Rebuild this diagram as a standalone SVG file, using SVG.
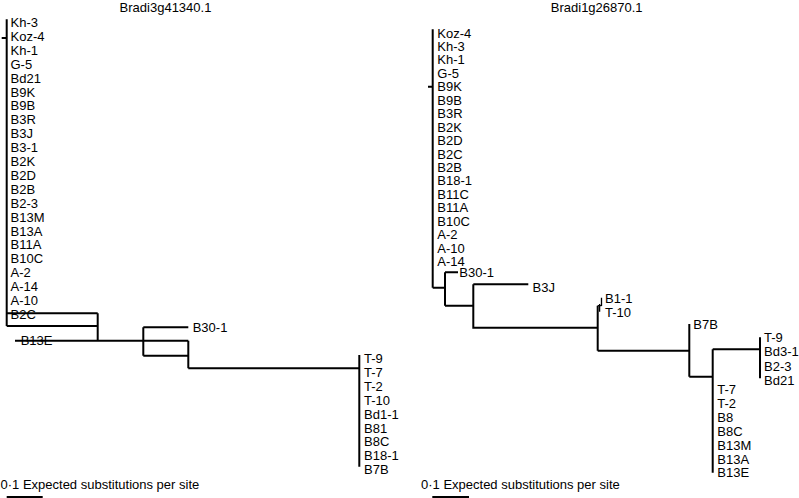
<svg xmlns="http://www.w3.org/2000/svg" width="799" height="498" viewBox="0 0 799 498">
<style>
text{font-family:"Liberation Sans",Arial,sans-serif;font-size:13px;fill:#000}
.t{text-anchor:middle}
.e{fill:none;stroke:#000;stroke-width:2}
.f{fill:none;stroke:#000;stroke-width:1.3}
</style>
<rect width="799" height="498" fill="#fff"/>
<g id="titles">
<text class="t" x="165.5" y="12">Bradi3g41340.1</text>
<text class="t" x="596.7" y="12">Bradi1g26870.1</text>
</g>
<g id="connectors">
<path class="e" d="M6.7 19.3V326M1.7 38H6.7M6.7 313.3H97.7M6.7 326H97.7M97.7 313.3V340.7M15 340.7H188.3M143.3 327.3V355.7M143.3 327.3H188.3M143.3 355.7H188.3M188.3 340.7V368.3M188.3 368.3H359.3M359.3 355V466.7"/>
<path class="e" d="M432.7 29.3V287.7M428 86.7H432.7M432.7 287.7H445M445 272.3V305.7M445 272.3H458M445 305.7H473.3M473.3 284.3V328.7M473.3 284.3H528.3M473.3 327.7H597.7M597.7 305.7V350.7M597.7 350.7H689.3M689.3 324V376.7M689.3 376.7H712.7M712.7 349.3V472.7M712.7 349.3H760M760 337.3V378.3"/>
<path class="f" d="M597.7 305.7H601.5M601.5 297.8V306M599.6 304V311.7"/>
</g>
<g id="left-clade">
<g id="L-Kh-3"><text x="10.5" y="27">Kh-3</text></g>
<g id="L-Koz-4"><text x="10.5" y="40.9">Koz-4</text></g>
<g id="L-Kh-1"><text x="10.5" y="54.8">Kh-1</text></g>
<g id="L-G-5"><text x="10.5" y="68.7">G-5</text></g>
<g id="L-Bd21"><text x="10.5" y="82.6">Bd21</text></g>
<g id="L-B9K"><text x="10.5" y="96.5">B9K</text></g>
<g id="L-B9B"><text x="10.5" y="110.4">B9B</text></g>
<g id="L-B3R"><text x="10.5" y="124.3">B3R</text></g>
<g id="L-B3J"><text x="10.5" y="138.2">B3J</text></g>
<g id="L-B3-1"><text x="10.5" y="152.1">B3-1</text></g>
<g id="L-B2K"><text x="10.5" y="166">B2K</text></g>
<g id="L-B2D"><text x="10.5" y="179.9">B2D</text></g>
<g id="L-B2B"><text x="10.5" y="193.8">B2B</text></g>
<g id="L-B2-3"><text x="10.5" y="207.7">B2-3</text></g>
<g id="L-B13M"><text x="10.5" y="221.6">B13M</text></g>
<g id="L-B13A"><text x="10.5" y="235.5">B13A</text></g>
<g id="L-B11A"><text x="10.5" y="249.4">B11A</text></g>
<g id="L-B10C"><text x="10.5" y="263.3">B10C</text></g>
<g id="L-A-2"><text x="10.5" y="277.2">A-2</text></g>
<g id="L-A-14"><text x="10.5" y="291.1">A-14</text></g>
<g id="L-A-10"><text x="10.5" y="305">A-10</text></g>
<g id="L-B2C"><text x="10.5" y="318.9">B2C</text></g>
<g id="L-B13E"><text x="20.7" y="345">B13E</text></g>
<g id="L-B30-1"><text x="192.7" y="332">B30-1</text></g>
<g id="L-T-9"><text x="364" y="363">T-9</text></g>
<g id="L-T-7"><text x="364" y="376.9">T-7</text></g>
<g id="L-T-2"><text x="364" y="390.8">T-2</text></g>
<g id="L-T-10"><text x="364" y="404.7">T-10</text></g>
<g id="L-Bd1-1"><text x="364" y="418.6">Bd1-1</text></g>
<g id="L-B81"><text x="364" y="432.5">B81</text></g>
<g id="L-B8C"><text x="364" y="446.4">B8C</text></g>
<g id="L-B18-1"><text x="364" y="460.3">B18-1</text></g>
<g id="L-B7B"><text x="364" y="474.2">B7B</text></g>
</g>
<g id="right-clade">
<g id="R-Koz-4"><text x="437.3" y="37.5">Koz-4</text></g>
<g id="R-Kh-3"><text x="437.3" y="50.95">Kh-3</text></g>
<g id="R-Kh-1"><text x="437.3" y="64.4">Kh-1</text></g>
<g id="R-G-5"><text x="437.3" y="77.85">G-5</text></g>
<g id="R-B9K"><text x="437.3" y="91.3">B9K</text></g>
<g id="R-B9B"><text x="437.3" y="104.75">B9B</text></g>
<g id="R-B3R"><text x="437.3" y="118.2">B3R</text></g>
<g id="R-B2K"><text x="437.3" y="131.65">B2K</text></g>
<g id="R-B2D"><text x="437.3" y="145.1">B2D</text></g>
<g id="R-B2C"><text x="437.3" y="158.55">B2C</text></g>
<g id="R-B2B"><text x="437.3" y="172">B2B</text></g>
<g id="R-B18-1"><text x="437.3" y="185.45">B18-1</text></g>
<g id="R-B11C"><text x="437.3" y="198.9">B11C</text></g>
<g id="R-B11A"><text x="437.3" y="212.35">B11A</text></g>
<g id="R-B10C"><text x="437.3" y="225.8">B10C</text></g>
<g id="R-A-2"><text x="437.3" y="239.25">A-2</text></g>
<g id="R-A-10"><text x="437.3" y="252.7">A-10</text></g>
<g id="R-A-14"><text x="437.3" y="266.15">A-14</text></g>
<g id="R-B30-1"><text x="459.3" y="277">B30-1</text></g>
<g id="R-B3J"><text x="532.5" y="291.7">B3J</text></g>
<g id="R-B1-1"><text x="605" y="302.5">B1-1</text></g>
<g id="R-T-10"><text x="605" y="316.7">T-10</text></g>
<g id="R-B7B"><text x="693.3" y="329">B7B</text></g>
<g id="R-T-9"><text x="764" y="342.3">T-9</text></g>
<g id="R-Bd3-1"><text x="764" y="356.4">Bd3-1</text></g>
<g id="R-B2-3"><text x="764" y="370.5">B2-3</text></g>
<g id="R-Bd21"><text x="764" y="384.6">Bd21</text></g>
<g id="R-T-7"><text x="717.3" y="394">T-7</text></g>
<g id="R-T-2"><text x="717.3" y="407.9">T-2</text></g>
<g id="R-B8"><text x="717.3" y="421.8">B8</text></g>
<g id="R-B8C"><text x="717.3" y="435.7">B8C</text></g>
<g id="R-B13M"><text x="717.3" y="449.6">B13M</text></g>
<g id="R-B13A"><text x="717.3" y="463.5">B13A</text></g>
<g id="R-B13E"><text x="717.3" y="477.4">B13E</text></g>
</g>
<g id="scales">
<text x="0.5" y="489">0·1 Expected substitutions per site</text>
<path class="e" d="M6.7 497H42.7"/>
<text x="421" y="489">0·1 Expected substitutions per site</text>
<path class="e" d="M432.3 497H469"/>
</g>
</svg>
